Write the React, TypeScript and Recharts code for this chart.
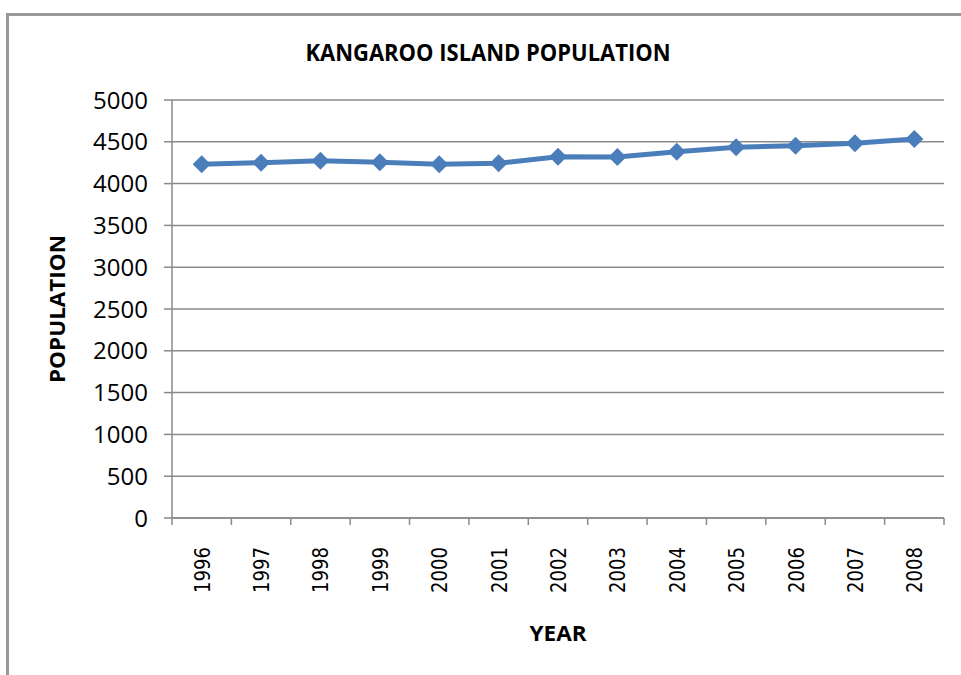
import { LineChart, Line, XAxis, YAxis, CartesianGrid } from 'recharts';

const years = ['1996', '1997', '1998', '1999', '2000', '2001', '2002', '2003', '2004', '2005', '2006', '2007', '2008'];
const population = [4231, 4250, 4274, 4255, 4231, 4243, 4322, 4318, 4382, 4434, 4454, 4482, 4533];
const yTicks = [0, 500, 1000, 1500, 2000, 2500, 3000, 3500, 4000, 4500, 5000];

const data = years.map((year, i) => ({ year, population: population[i] }));

const W = 961;
const H = 675;
const margin = { top: 100, right: 17, left: 112, bottom: 97 };
const yAxisWidth = 60;
const band = (W - margin.left - margin.right - yAxisWidth) / years.length;

const gray = '#8a8a8a';
const blue = '#4a7ebb';

function YearTick(props: any) {
  const { x, y, payload, index } = props;
  const last = index === years.length - 1;
  return (
    <g>
      <line x1={x - band / 2} y1={y} x2={x - band / 2} y2={y + 7} stroke={gray} strokeWidth={1.5} />
      {last && <line x1={x + band / 2} y1={y} x2={x + band / 2} y2={y + 7} stroke={gray} strokeWidth={1.5} />}
      <text
        x={0}
        y={0}
        transform={`translate(${x + 1},${y + 29}) rotate(-90)`}
        textAnchor="end"
        dominantBaseline="central"
        textLength={46}
        lengthAdjust="spacingAndGlyphs"
        style={{ fontFamily: 'DejaVu Sans', fontSize: 21, fill: '#000' }}
      >
        {payload.value}
      </text>
    </g>
  );
}

function Diamond(props: any) {
  const { cx, cy } = props;
  if (cx == null || cy == null) return null;
  const r = 9;
  return <path d={`M${cx},${cy - r}L${cx + r},${cy}L${cx},${cy + r}L${cx - r},${cy}Z`} fill={blue} />;
}

export default function App() {
  return (
    <div style={{ position: 'absolute', left: 0, top: 0, width: W, height: H, overflow: 'hidden', background: '#fff' }}>
      <div
        style={{
          position: 'absolute',
          left: 6,
          top: 13,
          width: W,
          height: H,
          borderLeft: '3px solid #999',
          borderTop: '3px solid #999',
        }}
      />
      <div style={{ position: 'absolute', left: 0, top: 0 }}>
        <LineChart width={W} height={H} data={data} margin={margin}>
          <CartesianGrid vertical={false} stroke={gray} strokeWidth={1.5} />
          <XAxis
            dataKey="year"
            scale="band"
            interval={0}
            height={60}
            tickLine={false}
            tickSize={0}
            tickMargin={0}
            axisLine={{ stroke: gray, strokeWidth: 1.5 }}
            tick={<YearTick />}
          />
          <YAxis
            width={yAxisWidth}
            domain={[0, 5000]}
            ticks={yTicks}
            interval={0}
            tickSize={8}
            tickMargin={16}
            tickLine={{ stroke: gray, strokeWidth: 1.5 }}
            axisLine={{ stroke: gray, strokeWidth: 1.5 }}
            tick={{ fill: '#000', fontSize: 24, fontFamily: 'Open Sans' }}
          />
          <Line
            type="linear"
            dataKey="population"
            stroke={blue}
            strokeWidth={5}
            dot={<Diamond />}
            activeDot={false}
            isAnimationActive={false}
          />
        </LineChart>
      </div>
      <svg width={W} height={H} style={{ position: 'absolute', left: 0, top: 0, pointerEvents: 'none' }}>
        <text
          x={488}
          y={61}
          textAnchor="middle"
          fontFamily="Open Sans"
          fontWeight="bold"
          fontSize={23}
          textLength={365}
          lengthAdjust="spacingAndGlyphs"
        >
          KANGAROO ISLAND POPULATION
        </text>
        <text
          x={0}
          y={0}
          transform="translate(65,309) rotate(-90)"
          textAnchor="middle"
          fontFamily="Open Sans"
          fontWeight="bold"
          fontSize={22}
          textLength={148}
          lengthAdjust="spacingAndGlyphs"
        >
          POPULATION
        </text>
        <text
          x={558}
          y={641}
          textAnchor="middle"
          fontFamily="Open Sans"
          fontWeight="bold"
          fontSize={22}
          textLength={57}
          lengthAdjust="spacingAndGlyphs"
        >
          YEAR
        </text>
      </svg>
    </div>
  );
}
